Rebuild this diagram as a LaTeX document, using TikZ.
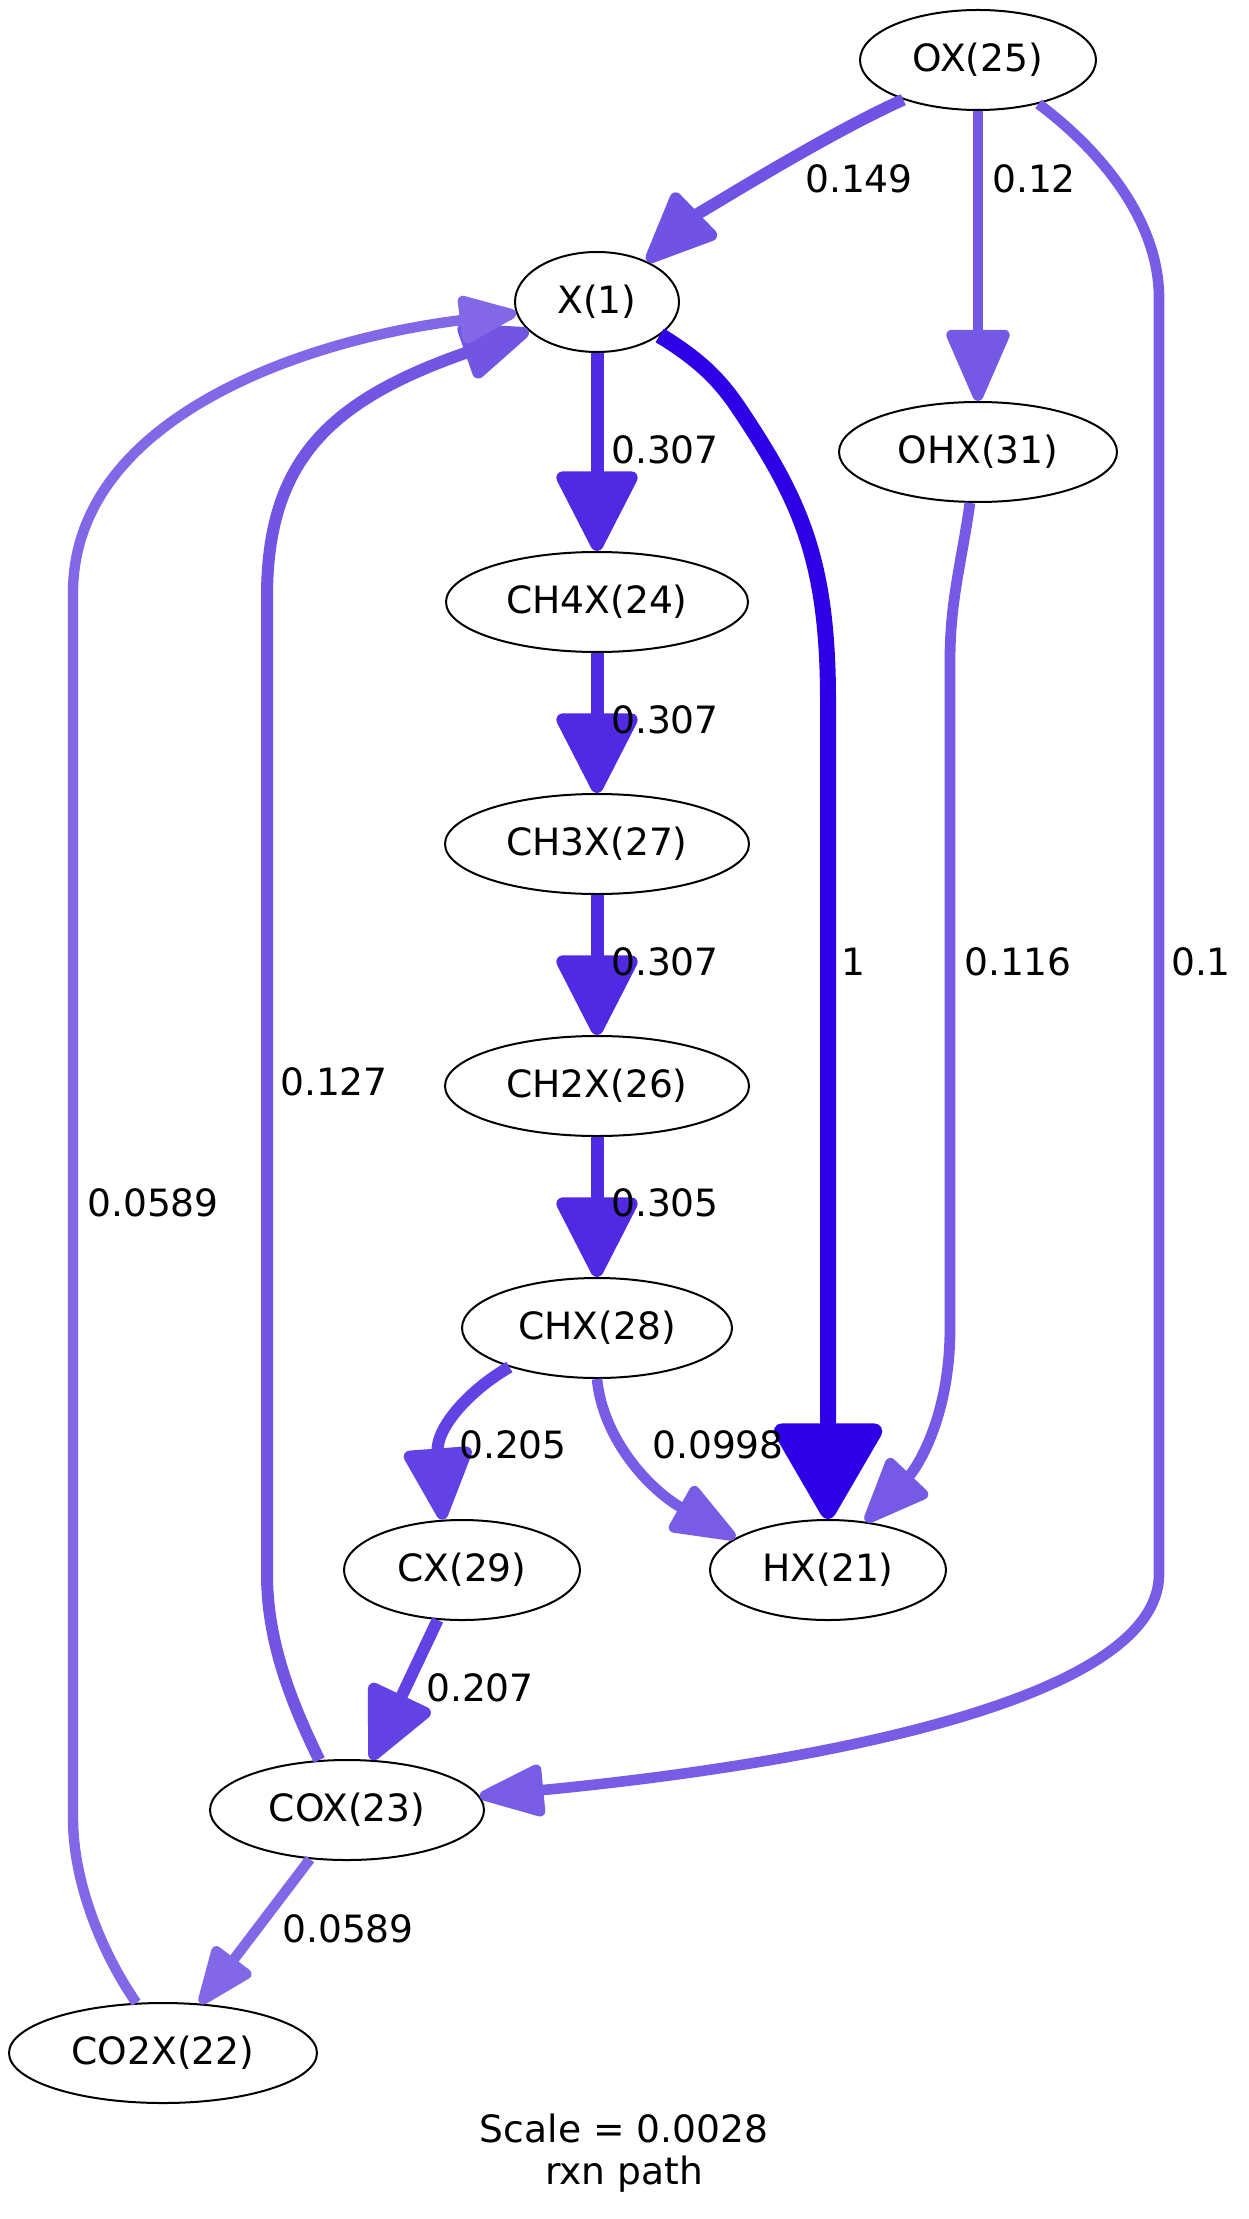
\documentclass[tikz,border=0pt]{standalone}
\usepackage{fontspec}
\setmainfont{DejaVu Sans}
\usetikzlibrary{shapes.geometric,arrows.meta}

\definecolor{flux1}{RGB}{46,0,230}
\definecolor{flux307}{RGB}{80,41,226}
\definecolor{flux206}{RGB}{98,66,228}
\definecolor{flux149}{RGB}{112,82,228}
\definecolor{flux127}{RGB}{115,85,228}
\definecolor{flux12}{RGB}{117,88,228}
\definecolor{flux116}{RGB}{118,89,228}
\definecolor{flux01}{RGB}{120,92,229}
\definecolor{flux0589}{RGB}{130,104,230}

\tikzset{every picture/.style={line width=1pt}}
\tikzset{
  spc/.style={draw, ellipse, inner sep=0pt, minimum height=50pt, font=\fontsize{18.8}{21}\selectfont},
  lbl/.style={inner sep=0pt, font=\fontsize{18.8}{21}\selectfont},
  flx1/.style={draw=flux1, line width=8pt, -{Triangle[round,length=52pt,width=58pt]}},
  flx307/.style={draw=flux307, line width=6.5pt, -{Triangle[round,length=44pt,width=43pt]}},
  flx206/.style={draw=flux206, line width=6pt, -{Triangle[round,length=40pt,width=36pt]}},
  flx149/.style={draw=flux149, line width=6pt, -{Triangle[round,length=40pt,width=33pt]}},
  flx127/.style={draw=flux127, line width=6pt, -{Triangle[round,length=39pt,width=30pt]}},
  flx12/.style={draw=flux12, line width=5.4pt, -{Triangle[round,length=40pt,width=33pt]}},
  flx116/.style={draw=flux116, line width=5.4pt, -{Triangle[round,length=37pt,width=29pt]}},
  flx01/.style={draw=flux01, line width=5.3pt, -{Triangle[round,length=37pt,width=27pt]}},
  flx0589/.style={draw=flux0589, line width=5.2pt, -{Triangle[round,length=33pt,width=25pt]}},
}

\begin{document}
\begin{tikzpicture}[x=0.5pt,y=0.5pt,yscale=-1,xscale=1]
\path[use as bounding box] (0,0) rectangle (1248,2219); %diagram is 1248 x 2219

% Species Nodes
\node[spc, minimum width=118pt] (OX) at (978,60) {OX(25)};
\node[spc, minimum width=82pt] (X1) at (597,302) {X(1)};
\node[spc, minimum width=139pt] (OHX) at (978,452) {OHX(31)};
\node[spc, minimum width=151pt] (CH4X) at (597,602) {CH4X(24)};
\node[spc, minimum width=152pt] (CH3X) at (597,844) {CH3X(27)};
\node[spc, minimum width=152pt] (CH2X) at (597,1086) {CH2X(26)};
\node[spc, minimum width=135pt] (CHX) at (597,1328) {CHX(28)};
\node[spc, minimum width=118pt] (CX) at (462,1570) {CX(29)};
\node[spc, minimum width=118pt] (HX) at (828,1570) {HX(21)};
\node[spc, minimum width=137pt] (COX) at (347,1810) {COX(23)};
\node[spc, minimum width=154pt] (CO2X) at (163,2053) {CO2X(22)};

%Curve Lines OX(25)
\draw[flx149] (OX.208) .. controls (820,137) and (690,220) .. (X1.39);
\draw[flx12] (OX) -- (OHX);
\draw[flx01] (OX.324) .. controls (1100,150) and (1159,220) .. (1159,298) -- (1159,1574) .. controls (1159,1720) and (700,1775) .. (COX.6);
%Curve Lines X(1)
\draw[flx1] (X1.332) .. controls (700,360) and (720,380) .. (740,410) .. controls (800,500) and (828,560) .. (828,700) -- (HX);
\draw[flx307] (X1) -- (CH4X);
%Straight Lines CH4X -> CHX
\draw[flx307] (CH4X) -- (CH3X);
\draw[flx307] (CH3X) -- (CH2X);
\draw[flx307] (CH2X) -- (CHX);
%Curve Lines CHX(28)
\draw[flx206] (CHX.204) .. controls (465,1393) and (436,1430) .. (CX.111);
\draw[flx01] (CHX.south) .. controls (603,1440) and (650,1490) .. (HX.161);
%Curve Lines OHX(31)
\draw[flx116] (OHX.261) .. controls (962,560) and (950,600) .. (950,660) -- (950,1328) .. controls (950,1420) and (915,1470) .. (HX.52);
%Straight Lines CX, COX
\draw[flx206] (CX.244) -- (COX.64);
\draw[flx0589] (COX.233) -- (CO2X.53);
%Curve Lines back to X(1)
\draw[flx127] (COX.119) .. controls (290,1700) and (267,1640) .. (267,1574) -- (267,597) .. controls (267,460) and (330,400) .. (X1.203);
\draw[flx0589] (CO2X.118) .. controls (100,1950) and (73,1880) .. (73,1818) -- (73,593) .. controls (73,420) and (300,340) .. (X1.188);

% Text Node
\node[lbl] (l149) at (859,179) {0.149};
% Text Node
\node[lbl] (l12) at (1034,179) {0.12};
% Text Node
\node[lbl] (l307a) at (665,450) {0.307};
% Text Node
\node[lbl] (l307b) at (665,720) {0.307};
% Text Node
\node[lbl] (l307c) at (665,962) {0.307};
% Text Node
\node[lbl] (l305) at (665,1203) {0.305};
% Text Node
\node[lbl] (l1) at (853,962) {1};
% Text Node
\node[lbl] (l116) at (1018,962) {0.116};
% Text Node
\node[lbl] (l01) at (1201,962) {0.1};
% Text Node
\node[lbl] (l127) at (334,1082) {0.127};
% Text Node
\node[lbl] (l0589a) at (153,1203) {0.0589};
% Text Node
\node[lbl] (l205) at (513,1445) {0.205};
% Text Node
\node[lbl] (l0998) at (718,1445) {0.0998};
% Text Node
\node[lbl] (l207) at (480,1688) {0.207};
% Text Node
\node[lbl] (l0589b) at (348,1929) {0.0589};
% Text Node
\node[lbl, align=center] (cap) at (624,2153) {Scale = 0.0028\\rxn path};

\end{tikzpicture}
\end{document}
